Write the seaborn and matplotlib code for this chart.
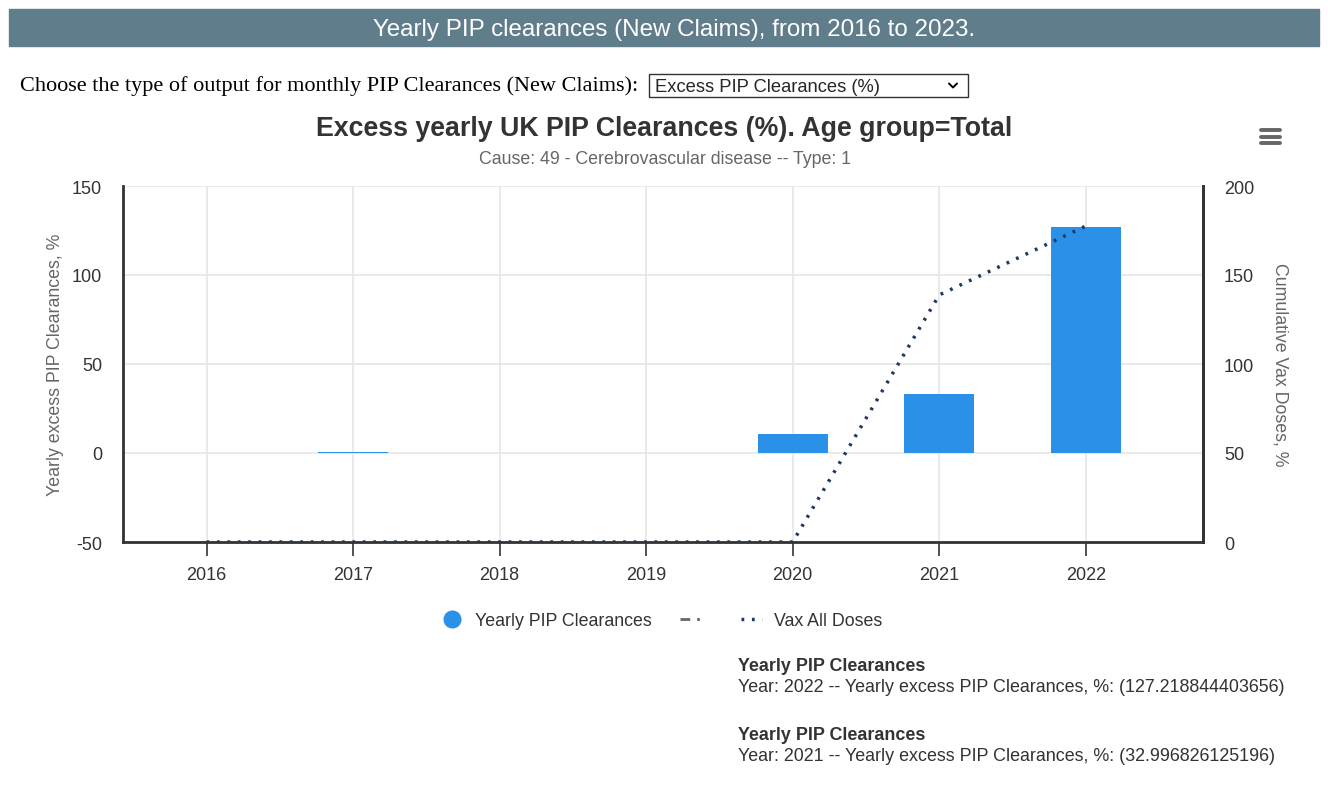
import numpy as np
import pandas as pd
import seaborn as sns
import matplotlib.pyplot as plt
from matplotlib.lines import Line2D
from matplotlib.patches import Rectangle

# data
years = ["2016", "2017", "2018", "2019", "2020", "2021", "2022"]
excess_pct = [-0.1, 0.8, -0.1, 0.1, 10.8, 32.996826125196, 127.218844403656]
vax_cum = [0, 0, 0, 0, 0, 138.8, 177.5]

sns.set_style("white")
plt.rcParams['font.family'] = ['Liberation Sans', 'DejaVu Sans']
plt.rcParams['axes.unicode_minus'] = False

fig = plt.figure(figsize=(13.28, 8.03), dpi=100)
W, H = 1328, 803

def fx(px):
    return px / W

def fy(py):
    return 1 - py / H

# page header
fig.patches.append(Rectangle((fx(9), fy(47)), fx(1310), 37 / H, transform=fig.transFigure,
                             color="#607d8b", zorder=0))
fig.text(fx(674), fy(30), "Yearly PIP clearances (New Claims), from 2016 to 2023.",
         color="white", fontsize=17.4, ha="center", va="center")

# dropdown row
fig.text(fx(20), fy(86), "Choose the type of output for monthly PIP Clearances (New Claims):",
         family="Liberation Serif", fontsize=16, ha="left", va="center", color="black")
fig.patches.append(Rectangle((fx(649), fy(98)), fx(319), 23 / H, transform=fig.transFigure,
                             facecolor="white", edgecolor="#333333", lw=1))
fig.text(fx(655), fy(87), "Excess PIP Clearances (%)", fontsize=13.2, ha="left", va="center")
fig.lines.append(Line2D([fx(949), fx(953), fx(957)], [fy(84.5), fy(88.5), fy(84.5)],
                        transform=fig.transFigure, color="black", lw=1.4))

# chart titles
fig.text(fx(664), fy(129), "Excess yearly UK PIP Clearances (%). Age group=Total",
         fontsize=19.3, fontweight="bold", ha="center", va="center", color="#333333")
fig.text(fx(665), fy(160), "Cause: 49 - Cerebrovascular disease -- Type: 1",
         fontsize=12.8, ha="center", va="center", color="#666666")

# hamburger menu
for yy in (131, 137.5, 144):
    fig.lines.append(Line2D([fx(1261), fx(1280)], [fy(yy), fy(yy)], transform=fig.transFigure,
                            color="#666666", lw=2.8, solid_capstyle="round"))

ax = fig.add_axes([fx(123), fy(543), fx(1203 - 123), (543 - 187) / H])
df = pd.DataFrame({"year": years, "excess": excess_pct})
sns.barplot(data=df, x="year", y="excess", color="#2b90e8", saturation=1, width=0.48,
            linewidth=0, ax=ax, zorder=3)
ax.set_xlim(-0.57, 6.8)
ax.set_ylim(-50, 150)
ax.set_yticks([-50, 0, 50, 100, 150])
ax.grid(True, color="#e6e6e6", lw=1.2, zorder=0)
ax.set_axisbelow(True)
ax.set_xlabel("")
ax.set_ylabel("Yearly excess PIP Clearances, %", fontsize=12.8, color="#666666", labelpad=6)
ax.tick_params(axis="x", length=10, width=1.2, color="#333333", labelsize=13,
               labelcolor="#333333", pad=7, direction="out", bottom=True)
ax.tick_params(axis="y", length=0, labelsize=13, labelcolor="#333333", pad=15)
for s in ("left", "bottom", "right"):
    ax.spines[s].set_color("#333333")
    ax.spines[s].set_linewidth(2)
ax.spines["top"].set_visible(False)

ax2 = ax.twinx()
sns.lineplot(x=np.arange(len(years)), y=vax_cum, ax=ax2, color="#1e3a5f", lw=2.5,
             linestyle=(0, (0.8, 2.2)), zorder=4)
ax2.set_ylim(0, 200)
ax2.set_yticks([0, 50, 100, 150, 200])
ax2.set_ylabel("Cumulative Vax Doses, %", fontsize=12.8, color="#666666", rotation=270,
               labelpad=25)
ax2.tick_params(axis="y", length=0, labelsize=13, labelcolor="#333333", pad=15)
for s in ("top", "left", "bottom"):
    ax2.spines[s].set_visible(False)
ax2.spines["right"].set_color("#333333")
ax2.spines["right"].set_linewidth(2)

# legend
handles = [
    Line2D([], [], marker="o", ls="none", markersize=12, color="#2b90e8"),
    Line2D([], [], color="#666666", lw=2, linestyle=(0, (3.5, 2.5, 1, 10))),
    Line2D([], [], color="#1e3a5f", lw=2.5, linestyle=(0, (0.8, 2.2))),
]
fig.legend(handles, ["Yearly PIP Clearances", "", "Vax All Doses"], loc="center",
           bbox_to_anchor=(fx(662), fy(622)), ncol=3, frameon=False, fontsize=12.8,
           handlelength=1.15, columnspacing=1.6, handletextpad=0.7, labelcolor="#333333")

# tooltip texts
fig.text(fx(738), fy(667), "Yearly PIP Clearances", fontsize=12.9, fontweight="bold",
         color="#333333", va="center")
fig.text(fx(738), fy(688), "Year: 2022 -- Yearly excess PIP Clearances, %: (127.218844403656)",
         fontsize=12.9, color="#333333", va="center")
fig.text(fx(738), fy(736), "Yearly PIP Clearances", fontsize=12.9, fontweight="bold",
         color="#333333", va="center")
fig.text(fx(738), fy(757), "Year: 2021 -- Yearly excess PIP Clearances, %: (32.996826125196)",
         fontsize=12.9, color="#333333", va="center")

fig.savefig("out.png", dpi=100)
